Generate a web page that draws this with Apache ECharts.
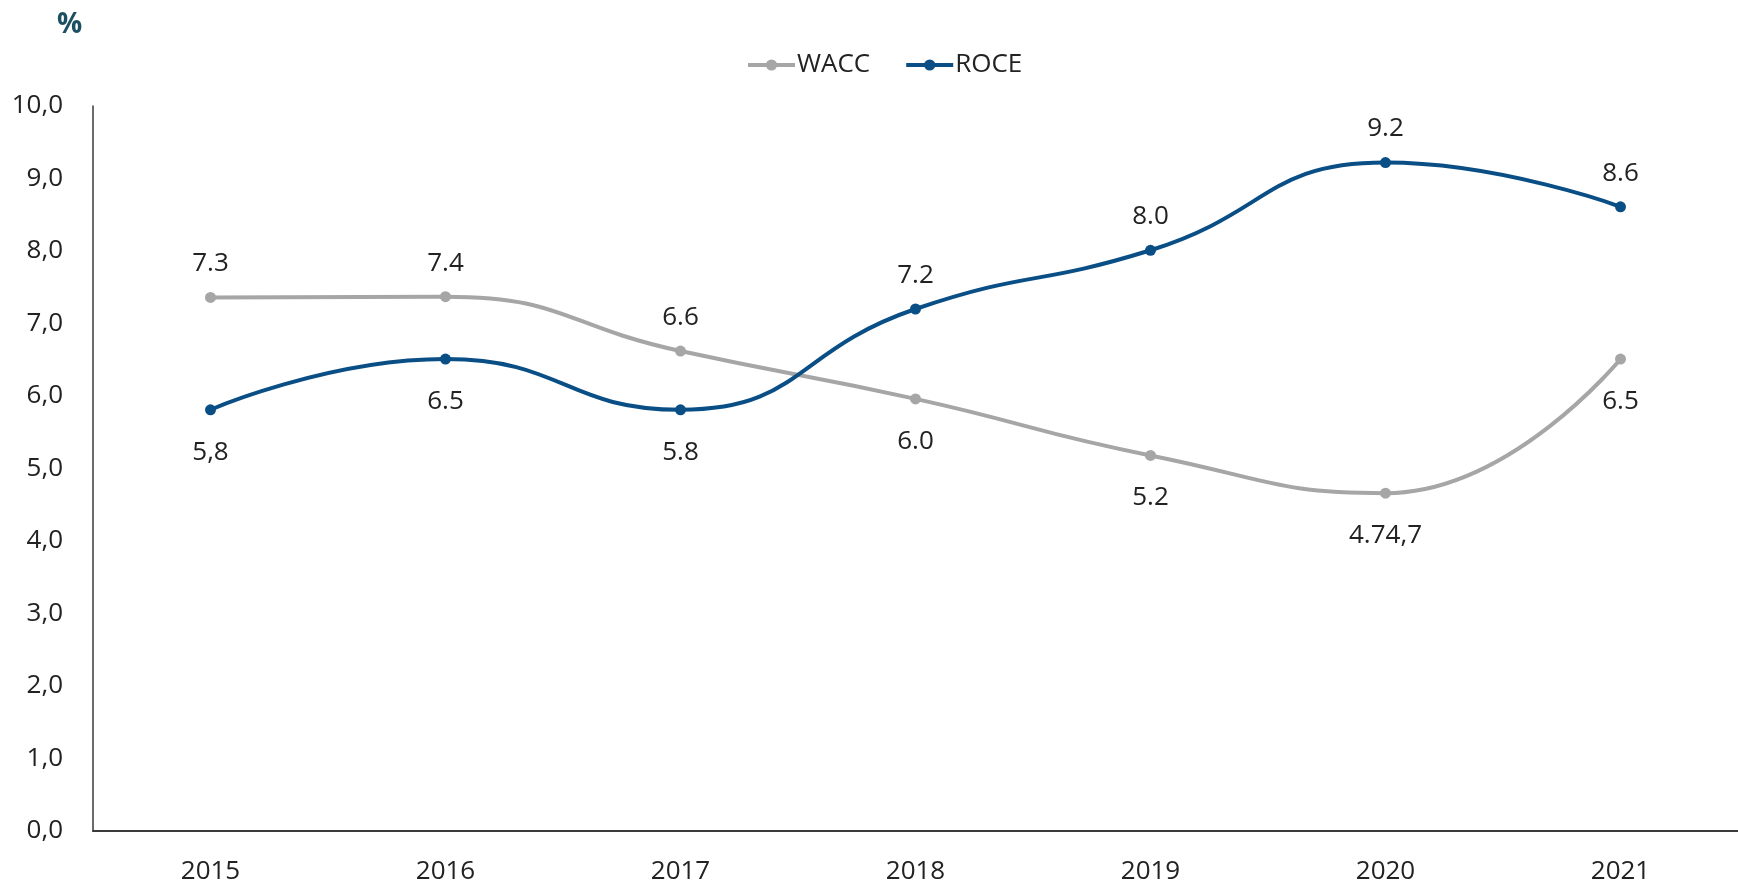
<!DOCTYPE html>
<html lang="en">
<head>
    <meta charset="UTF-8">
    <title>WACC / ROCE</title>
    <script src="https://cdn.jsdelivr.net/npm/echarts@6/dist/echarts.min.js"></script>
    <style>
        html, body { margin: 0; padding: 0; background: #fff; }
        #chart { width: 1738px; height: 890px; }
    </style>
</head>
<body>
<div id="chart"></div>

<script>
// data
var years = ['2015', '2016', '2017', '2018', '2019', '2020', '2021'];
var wacc = [7.36, 7.37, 6.62, 5.96, 5.18, 4.66, 6.51];
var roce = [5.81, 6.51, 5.81, 7.20, 8.01, 9.22, 8.61];
// label texts as printed in the chart
var waccLabels = ['7.3', '7.4', '6.6', '6.0', '5.2', '4.74,7', '6.5'];
var roceLabels = ['5,8', '6.5', '5.8', '7.2', '8.0', '9.2', '8.6'];
var waccLabelPos = ['top', 'top', 'top', 'bottom', 'bottom', 'bottom', 'bottom'];
var roceLabelPos = ['bottom', 'bottom', 'bottom', 'top', 'top', 'top', 'top'];
var yTicks = ['0,0', '1,0', '2,0', '3,0', '4,0', '5,0', '6,0', '7,0', '8,0', '9,0', '10,0'];

var font = '"Open Sans", sans-serif';

function buildData(values, pos) {
    return values.map(function (v, i) {
        return {
            value: v,
            label: {
                position: pos[i],
                distance: pos[i] === 'top' ? 15 : 24
            }
        };
    });
}

var chart = echarts.init(document.getElementById('chart'));
var option = {
    animation: false,
    textStyle: { fontFamily: font },
    title: {
        text: '%',
        left: 52,
        top: 6,
        textStyle: { fontFamily: font, fontSize: 28, fontWeight: 'bold', color: '#1B4F61' }
    },
    legend: {
        data: ['WACC', 'ROCE'],
        left: 741,
        top: 47,
        itemWidth: 47,
        itemHeight: 14,
        itemGap: 34,
        lineStyle: { width: 4 },
        textStyle: { fontFamily: font, fontSize: 26, color: '#222', padding: [0, 0, 0, -3] }
    },
    grid: { left: 93, top: 106, bottom: 59, width: 1650, containLabel: false },
    xAxis: {
        type: 'category',
        data: years,
        axisLine: { lineStyle: { color: '#3a3a3a', width: 2 } },
        axisTick: { show: false },
        axisLabel: { fontFamily: font, fontSize: 26, color: '#222', margin: 28 }
    },
    yAxis: {
        type: 'value',
        min: 0,
        max: 10,
        interval: 1,
        axisLine: { show: true, lineStyle: { color: '#3a3a3a', width: 1.5 } },
        axisTick: { show: false },
        splitLine: { show: false },
        axisLabel: {
            fontFamily: font, fontSize: 26, color: '#222', margin: 30,
            formatter: function (v, i) { return yTicks[i]; }
        }
    },
    series: [
        {
            name: 'WACC',
            type: 'line',
            smooth: 0.5,
            data: buildData(wacc, waccLabelPos),
            symbol: 'circle',
            symbolSize: 11,
            itemStyle: { color: '#A6A6A6' },
            lineStyle: { color: '#A6A6A6', width: 4 },
            label: {
                show: true,
                fontFamily: font,
                fontSize: 26,
                color: '#222',
                formatter: function (p) { return waccLabels[p.dataIndex]; }
            }
        },
        {
            name: 'ROCE',
            type: 'line',
            smooth: 0.5,
            data: buildData(roce, roceLabelPos),
            symbol: 'circle',
            symbolSize: 11,
            itemStyle: { color: '#0A4E86' },
            lineStyle: { color: '#0A4E86', width: 4 },
            label: {
                show: true,
                fontFamily: font,
                fontSize: 26,
                color: '#222',
                formatter: function (p) { return roceLabels[p.dataIndex]; }
            }
        }
    ]
};
chart.setOption(option);
</script>
</body>
</html>
